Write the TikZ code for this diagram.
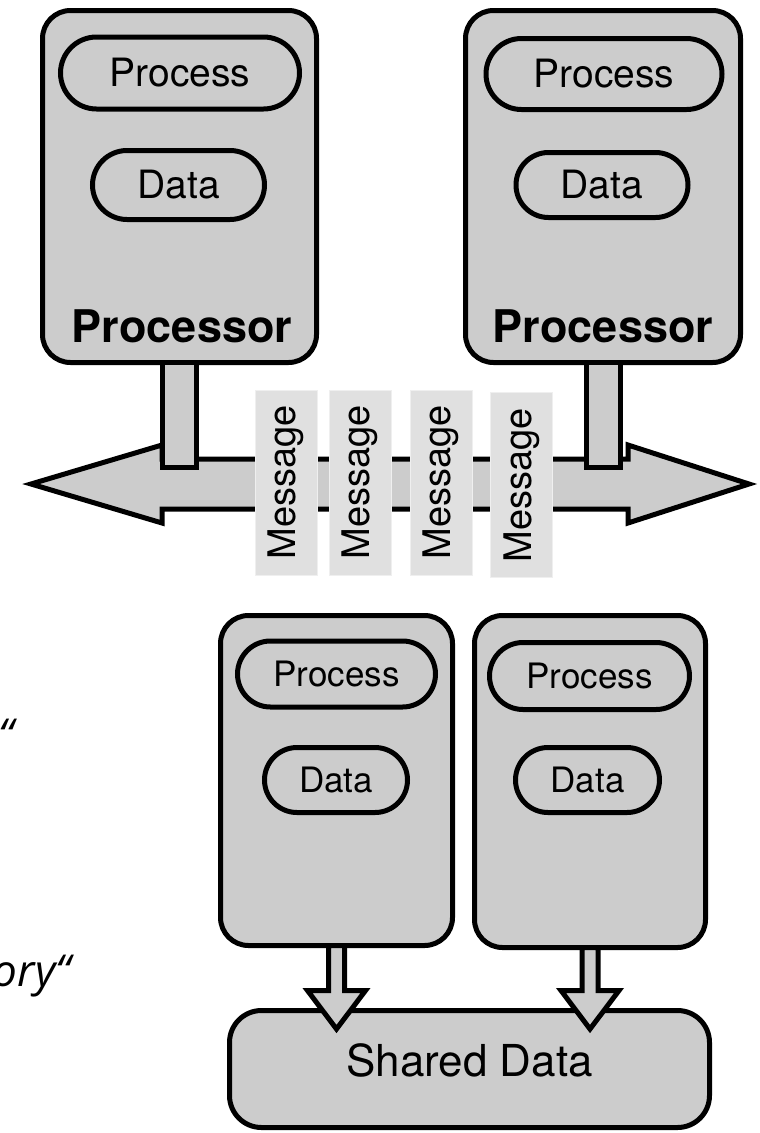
\documentclass[tikz,border=0pt]{standalone}
\usepackage{fontspec}
\setmainfont{TeX Gyre Heros}
\newfontfamily\slidefont{Open Sans}
\usetikzlibrary{shapes,calc}
\definecolor{boxgray}{RGB}{204,204,204}
\definecolor{msggray}{RGB}{224,224,224}

\begin{document}
\begin{tikzpicture}[
    x=1pt,y=-1pt,
    line width=5pt,
    unit/.style={draw,fill=boxgray,rectangle,rounded corners=28pt,outer sep=0pt},
    pill/.style={draw,fill=boxgray,rounded rectangle,outer sep=0pt,inner sep=0pt},
    block/.style={draw,fill=boxgray},
    msg/.style={draw=msggray!50,line width=1pt,fill=msggray,rotate=90,minimum width=185pt,minimum height=62pt,font=\fontsize{38}{44}\selectfont},
]
\useasboundingbox (0,0) rectangle (760,1133);
\clip (0,0) rectangle (760,1133);

% Slide text (cut off at the left)
\node[anchor=base east,inner sep=0pt,font=\slidefont\itshape\fontsize{44}{50}\selectfont] (quote1) at (16,750) {“};
\node[anchor=base east,inner sep=0pt,font=\slidefont\itshape\fontsize{44}{50}\selectfont] (quote2) at (73,986) {ory“};

% Processors with own memory
\node[unit,minimum width=274pt,minimum height=352pt] (cpu1) at (179.5,186.5) {};
\node[unit,minimum width=275pt,minimum height=352pt] (cpu2) at (603,186.5) {};

\node[pill,minimum width=239pt,minimum height=72pt,font=\fontsize{39}{44}\selectfont] (proc1) at (180,73) {Process};
\node[pill,minimum width=172pt,minimum height=69pt,font=\fontsize{39}{44}\selectfont] (data1) at (178.5,185) {Data};
\node[pill,minimum width=236pt,minimum height=71pt,font=\fontsize{39}{44}\selectfont] (proc2) at (604,74) {Process};
\node[pill,minimum width=172pt,minimum height=65pt,font=\fontsize{39}{44}\selectfont] (data2) at (602,185) {Data};

\node[font=\fontsize{45}{50}\selectfont\bfseries] (lbl1) at (182,326) {Processor};
\node[font=\fontsize{45}{50}\selectfont\bfseries] (lbl2) at (603,326) {Processor};

% Message bus
\coordinate (bus) at (390,484);
\draw[block] (31,484) -- (162,445) -- (162,459) -- (628,459) -- (628,445) -- (749,484)
    -- (628,523) -- (628,509) -- (162,509) -- (162,523) -- cycle;

\foreach \c in {cpu1,cpu2}
    \draw[block] ($(\c.south)+(-17,0)$) rectangle ($(\c.south |- bus)+(17,-17)$);

\foreach \i/\x/\y in {1/286/482.5,2/360/482.5,3/441/482.5,4/521.5/485}
    \node[msg] (msg\i) at (\x,\y) {Message};

% Processes sharing data
\node[unit,minimum width=232pt,minimum height=330pt] (core1) at (336.5,780.5) {};
\node[unit,minimum width=231pt,minimum height=332pt] (core2) at (590,781.5) {};

\node[pill,minimum width=198pt,minimum height=66pt,font=\fontsize{35}{40}\selectfont] (proc3) at (336.5,674) {Process};
\node[pill,minimum width=143pt,minimum height=65pt,font=\fontsize{35}{40}\selectfont] (data3) at (336,780) {Data};
\node[pill,minimum width=200pt,minimum height=67pt,font=\fontsize{35}{40}\selectfont] (proc4) at (589.5,676) {Process};
\node[pill,minimum width=144pt,minimum height=65pt,font=\fontsize{35}{40}\selectfont] (data4) at (587.5,780) {Data};

\node[unit,rounded corners=32pt,minimum width=480pt,minimum height=117pt,text depth=18pt,font=\fontsize{44}{50}\selectfont] (shared) at (469.5,1069) {Shared Data};

\foreach \c in {core1,core2}
    \draw[block] ($(\c.south)+(-8,0)$) -- ($(\c.south |- shared.north)+(-8,-20)$) -- ++(-21,0)
        -- ($(\c.south |- shared.north)+(0,18.5)$) -- ($(\c.south |- shared.north)+(29,-20)$)
        -- ++(-21,0) -- ($(\c.south)+(8,0)$) -- cycle;

\end{tikzpicture}
\end{document}
